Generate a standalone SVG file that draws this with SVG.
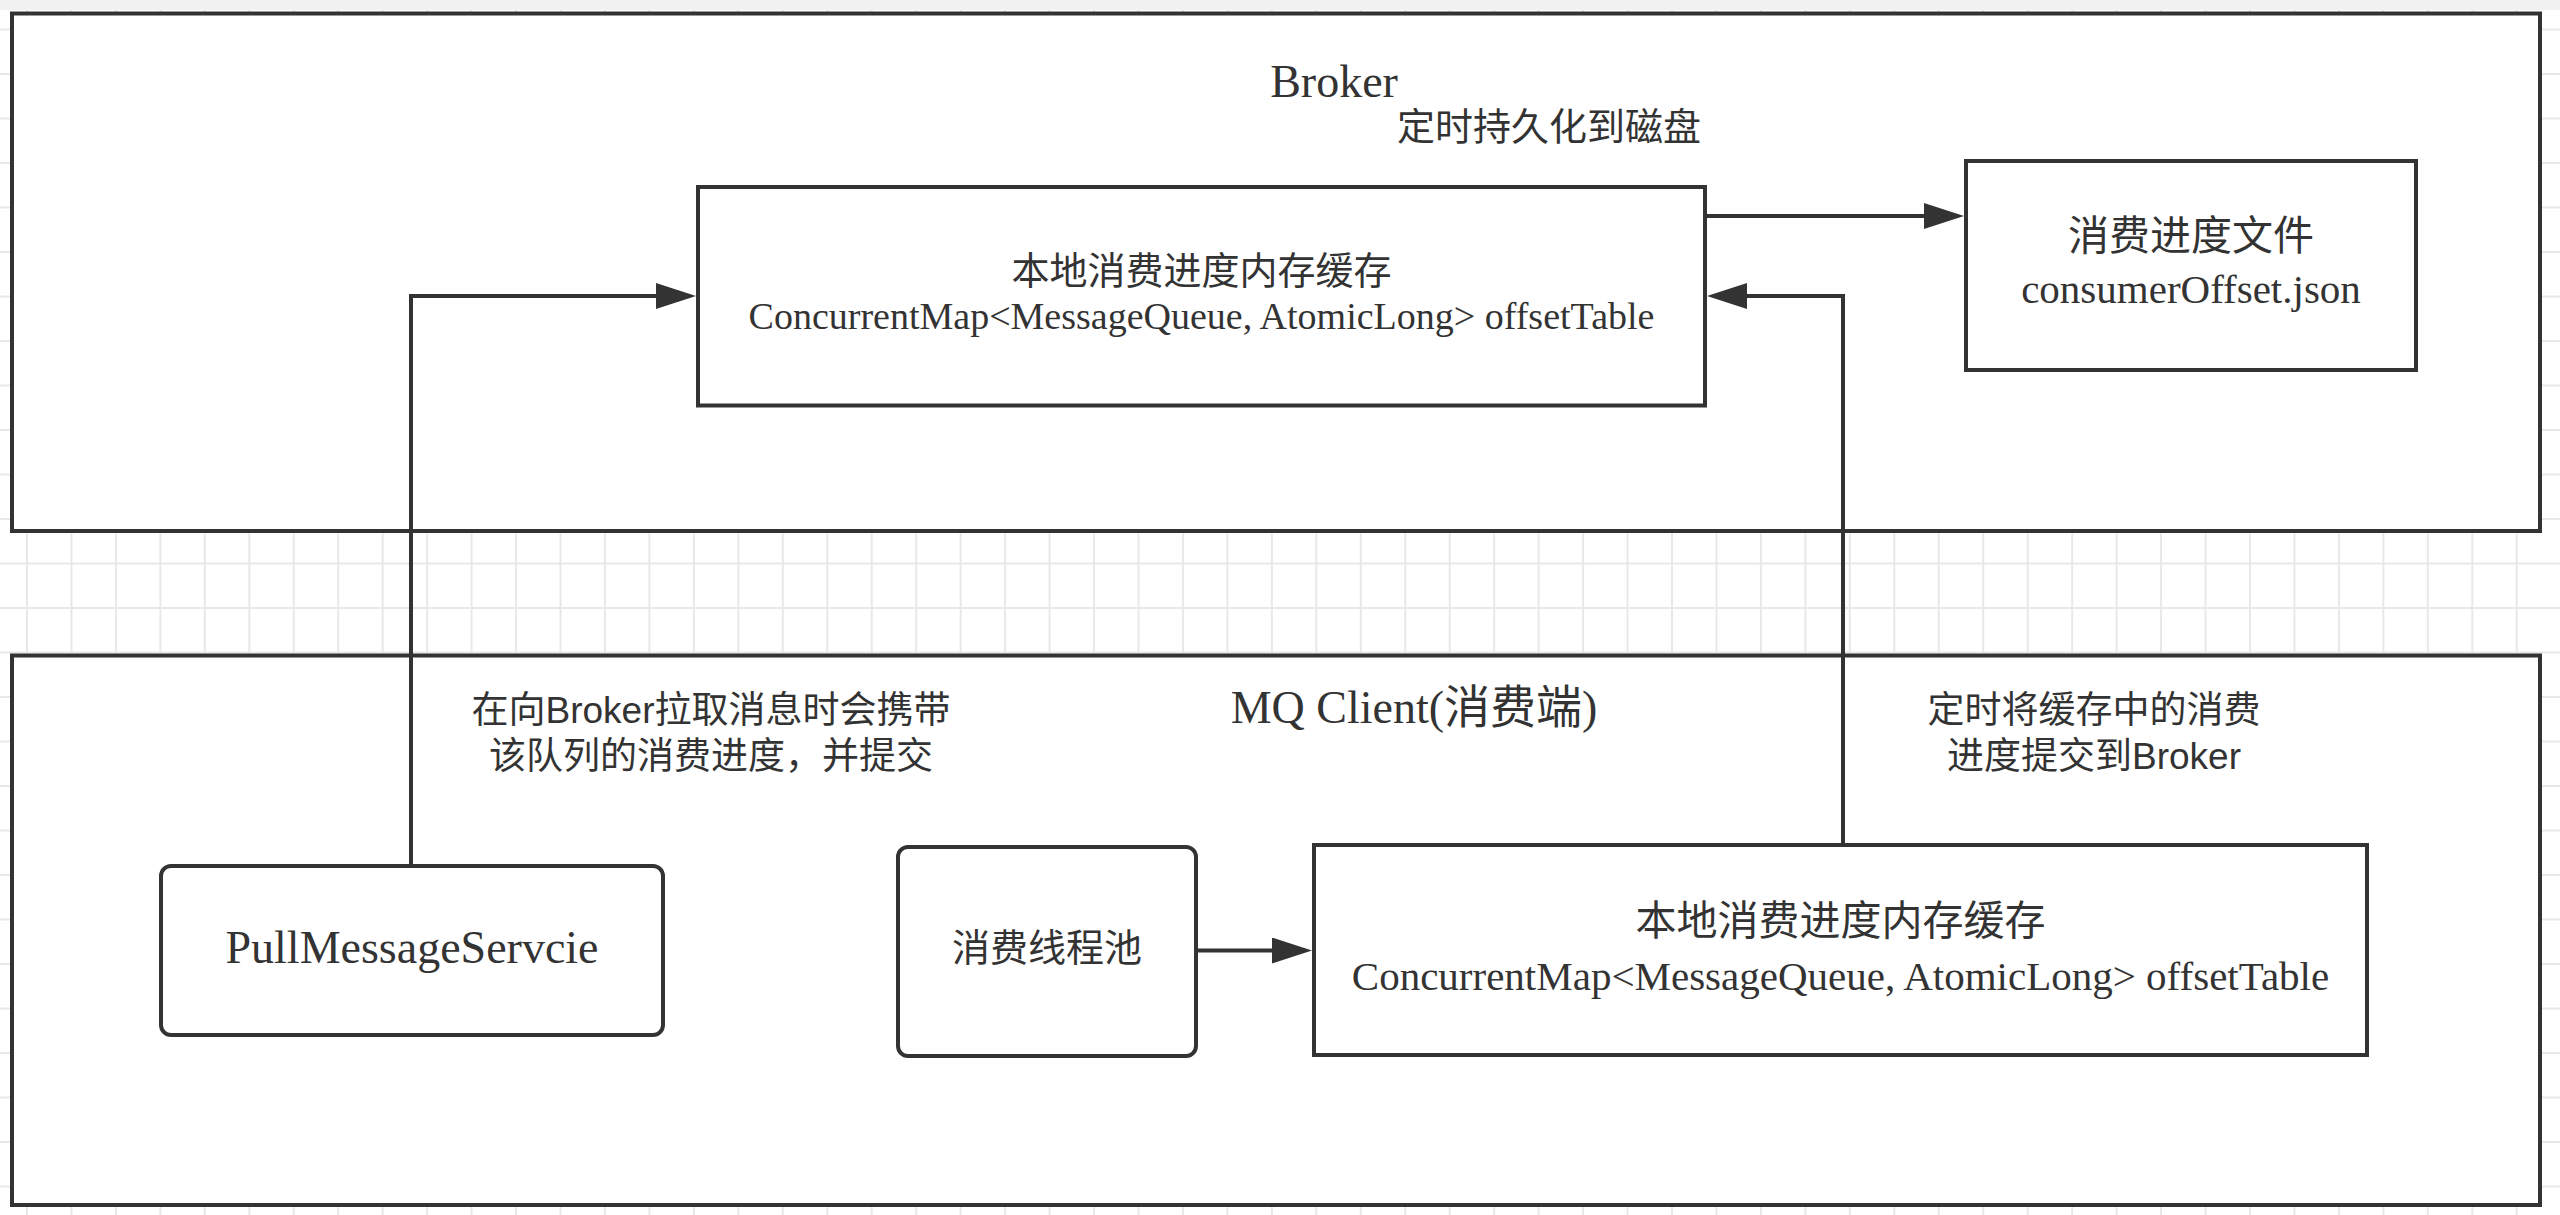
<svg xmlns="http://www.w3.org/2000/svg" width="2560" height="1215" viewBox="0 0 2560 1215">
<style>
.box{fill:#fff;stroke:#333;stroke-width:4}
.edge{fill:none;stroke:#333;stroke-width:4}
.serif{font-family:"Liberation Serif","Noto Sans CJK SC",serif;fill:#333}
.sans{font-family:"Noto Sans CJK SC","Noto Sans",sans-serif;fill:#333}
.lbl{font-family:"Liberation Sans","Noto Sans CJK SC",sans-serif;fill:#333}
.mid{text-anchor:middle}
</style>
<defs>
<pattern id="grid" patternUnits="userSpaceOnUse" x="26" y="28.5" width="44.46" height="44.5">
<rect x="0" y="0" width="2" height="44.5" fill="#e8e8e8"/>
<rect x="0" y="0" width="44.46" height="2" fill="#e8e8e8"/>
</pattern>
<marker id="arrow" markerUnits="userSpaceOnUse" viewBox="0 0 40 26" markerWidth="40" markerHeight="26" refX="0" refY="13" orient="auto">
<path d="M0,0 L40,13 L0,26 z" fill="#333"/>
</marker>
</defs>
<rect x="0" y="0" width="2560" height="1215" fill="#fff"/>
<rect x="0" y="0" width="2560" height="1215" fill="url(#grid)"/>
<rect x="0" y="0" width="2560" height="10" fill="#f1f1f1"/>

<g id="broker">
<rect class="box" x="12" y="13.5" width="2528" height="517.5"/>
<text class="serif mid" x="1334" y="97" font-size="46">Broker</text>
<text class="sans mid" x="1549" y="140" font-size="38">定时持久化到磁盘</text>
</g>
<g id="mqclient">
<rect class="box" x="12" y="655.5" width="2528" height="549.5"/>
<text class="serif mid" x="1414" y="723" font-size="46">MQ Client(消费端)</text>
<text class="lbl mid" font-size="37"><tspan x="711" y="723">在向Broker拉取消息时会携带</tspan><tspan x="711" y="769">该队列的消费进度，并提交</tspan></text>
<text class="lbl mid" font-size="37"><tspan x="2094" y="723">定时将缓存中的消费</tspan><tspan x="2094" y="769">进度提交到Broker</tspan></text>
</g>

<g id="connectors">
<path class="edge" d="M411,866 V296 H656" marker-end="url(#arrow)"/>
<path class="edge" d="M1843,845 V296 H1747" marker-end="url(#arrow)"/>
<path class="edge" d="M1705,216 H1924" marker-end="url(#arrow)"/>
<path class="edge" d="M1196,950.5 H1272" marker-end="url(#arrow)"/>
</g>

<g id="broker-cache">
<rect class="box" x="698" y="187" width="1007" height="218.5"/>
<text class="serif mid" x="1201.5" y="284" font-size="38">本地消费进度内存缓存</text>
<text class="serif mid" x="1201.5" y="329" font-size="38">ConcurrentMap&lt;MessageQueue, AtomicLong&gt; offsetTable</text>
</g>
<g id="offset-file">
<rect class="box" x="1966" y="161" width="450" height="209"/>
<text class="serif mid" x="2191" y="250" font-size="41">消费进度文件</text>
<text class="serif mid" x="2191" y="303" font-size="41">consumerOffset.json</text>
</g>
<g id="pull-service">
<rect class="box" x="161" y="866" width="502" height="169" rx="10" ry="10"/>
<text class="serif mid" x="412" y="963" font-size="46">PullMessageServcie</text>
</g>
<g id="thread-pool">
<rect class="box" x="898" y="847" width="298" height="209" rx="10" ry="10"/>
<text class="sans mid" x="1047" y="961" font-size="38">消费线程池</text>
</g>
<g id="client-cache">
<rect class="box" x="1314" y="845" width="1053" height="210"/>
<text class="serif mid" x="1840.5" y="935" font-size="41">本地消费进度内存缓存</text>
<text class="serif mid" x="1840.5" y="990" font-size="41">ConcurrentMap&lt;MessageQueue, AtomicLong&gt; offsetTable</text>
</g>
</svg>
